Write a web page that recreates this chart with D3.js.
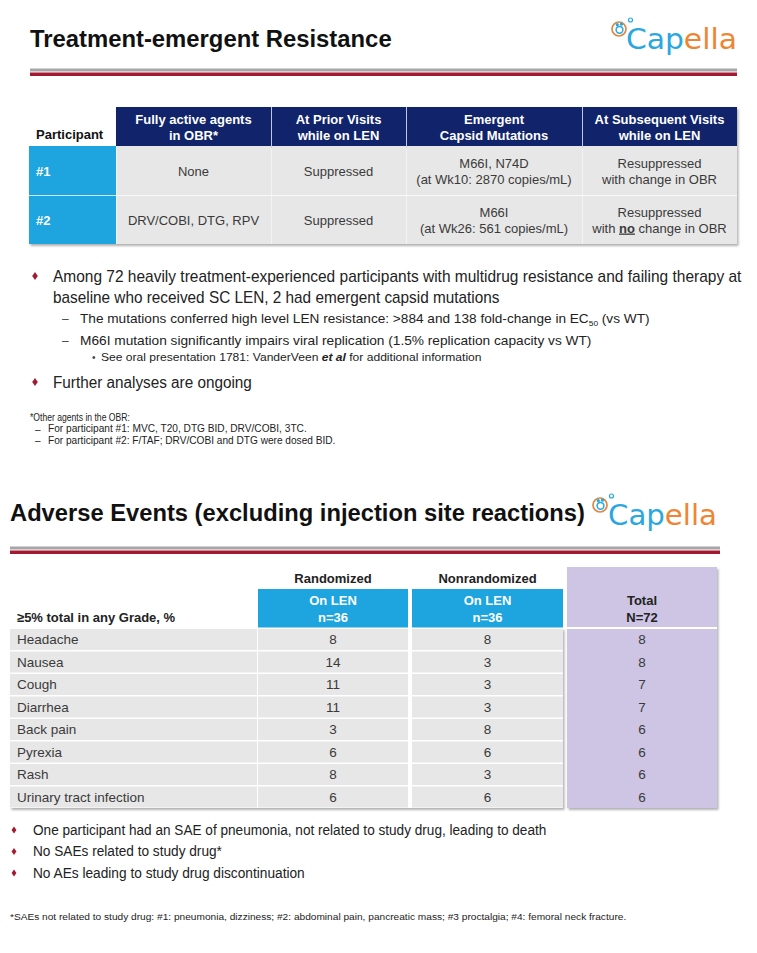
<!DOCTYPE html>
<html><head><meta charset="utf-8">
<script src="https://cdn.jsdelivr.net/npm/d3@7"></script>
<style>body{margin:0;background:#fff}svg{display:block;font-family:"Liberation Sans",Arial,sans-serif}</style>
</head><body><svg id="c" width="757" height="953"></svg>
<script>
// ---------- DATA ----------
const resHeaders = [["Participant"], ["Fully active agents", "in OBR*"], ["At Prior Visits", "while on LEN"], ["Emergent", "Capsid Mutations"], ["At Subsequent Visits", "while on LEN"]];
const participants = ["#1", "#2"];
const activeAgents = [["None"], ["DRV/COBI, DTG, RPV"]];
const priorVisits = [["Suppressed"], ["Suppressed"]];
const capsidMutations = [["M66I, N74D", "(at Wk10: 2870 copies/mL)"], ["M66I", "(at Wk26: 561 copies/mL)"]];
const subsequentVisits = [["Resuppressed", "with change in OBR"], ["Resuppressed", "with no change in OBR"]];

const aeEvents = ["Headache", "Nausea", "Cough", "Diarrhea", "Back pain", "Pyrexia", "Rash", "Urinary tract infection"];
const aeRandomized = [8, 14, 11, 11, 3, 6, 8, 6];
const aeNonrandomized = [8, 3, 3, 3, 8, 6, 3, 6];
const aeTotal = [8, 8, 7, 7, 6, 6, 6, 6];
const aeGroups = ["Randomized", "Nonrandomized"];
const aeArms = [["On LEN", "n=36"], ["On LEN", "n=36"], ["Total", "N=72"]];
const aeRowHeader = "\u22655% total in any Grade, %";

const titles = ["Treatment-emergent Resistance", "Adverse Events (excluding injection site reactions)"];
const brand = ["Cap", "ella"];

// ---------- STYLE ----------
const RED = "#a3192f", GLINE = "#a6a6a6", NAVY = "#10236b", BLUE = "#1ea4de", CELL = "#e7e7e7", PURPLE = "#cdc5e3", TXT = "#3a3a3a";
const svg = d3.select("#c");
const defs = svg.append("defs");
const flt = defs.append("filter").attr("id", "sh").attr("x", "-5%").attr("y", "-10%").attr("width", "112%").attr("height", "125%");
flt.append("feDropShadow").attr("dx", 1.5).attr("dy", 2).attr("stdDeviation", 1.3).attr("flood-color", "#000").attr("flood-opacity", 0.3);

function fit(t, w) {
  const L = t.node().getComputedTextLength();
  const x = +t.attr("x"), k = w / L;
  t.attr("transform", `translate(${x * (1 - k)},0) scale(${k},1)`);
}
function diamond(x, y, s) {
  svg.append("path").attr("d", `M${x},${y - s} L${x + s * 0.7},${y} L${x},${y + s} L${x - s * 0.7},${y} Z`).attr("fill", RED);
}
function logo(ix, iy, x, y, w) {
  const g = svg.append("g");
  const t = g.append("text").attr("x", x).attr("y", y).attr("font-size", 28).attr("font-family", "'DejaVu Sans', sans-serif");
  t.append("tspan").attr("fill", "#2aa7df").text(brand[0]);
  t.append("tspan").attr("fill", "#ef8532").text(brand[1]);
  fit(t, w);
  g.append("circle").attr("cx", ix).attr("cy", iy).attr("r", 7).attr("fill", "none").attr("stroke", "#d98a4a").attr("stroke-width", 1.7);
  g.append("circle").attr("cx", ix + 0.5).attr("cy", iy + 0.8).attr("r", 3.4).attr("fill", "none").attr("stroke", "#2aa7df").attr("stroke-width", 1.5);
  g.append("circle").attr("cx", ix - 1.7).attr("cy", iy - 4.3).attr("r", 1.6).attr("fill", "#2aa7df");
  g.append("circle").attr("cx", ix + 2.4).attr("cy", iy - 4.8).attr("r", 1.6).attr("fill", "#2aa7df");
  g.append("circle").attr("cx", ix + 11.5).attr("cy", iy - 9).attr("r", 2).attr("fill", "none").attr("stroke", "#2aa7df").attr("stroke-width", 1.2);
}
function lines(g, arr, cx, cy, opt) {
  const lh = opt.lh || 16;
  const base = arr.length === 1 ? [cy + 5] : [cy - 3, cy - 3 + lh];
  arr.forEach((s, i) => {
    const t = g.append("text").attr("x", cx).attr("y", base[i]).attr("text-anchor", opt.anchor || "middle")
      .attr("font-size", opt.size || 13).attr("font-weight", opt.bold ? "bold" : "normal").attr("fill", opt.fill || TXT);
    const m = s.match(/^(.*\s)(no)(\s.*)$/);
    if (m) {
      t.append("tspan").text(m[1]);
      t.append("tspan").attr("font-weight", "bold").attr("text-decoration", "underline").text(m[2]);
      t.append("tspan").text(m[3]);
    } else t.text(s);
  });
}

// ---------- SECTION 1 ----------
fit(svg.append("text").attr("x", 30).attr("y", 47).attr("font-size", 24).attr("font-weight", "bold").attr("fill", "#111").text(titles[0]), 362);
logo(619, 29, 626, 49, 111);
svg.append("rect").attr("x", 30).attr("y", 68.5).attr("width", 707).attr("height", 3).attr("fill", GLINE);
svg.append("rect").attr("x", 30).attr("y", 72.5).attr("width", 707).attr("height", 3.5).attr("fill", RED);

const resEdges = [29, 116, 271, 406, 582, 737];
const resCol = d3.scaleOrdinal().domain(d3.range(5)).range(resEdges.slice(0, 5));
const resW = i => resEdges[i + 1] - resEdges[i];
const resRow = d3.scaleBand().domain(participants).range([146, 244]);
const headY = [107, 146];

const t1 = svg.append("g");
t1.append("rect").attr("x", 29).attr("y", 146).attr("width", 708).attr("height", 98).attr("fill", "#fff").attr("filter", "url(#sh)");
t1.append("rect").attr("x", 116).attr("y", 107).attr("width", 621).attr("height", 39).attr("fill", "#fff").attr("filter", "url(#sh)");
resHeaders.forEach((h, i) => {
  const x = resCol(i), w = resW(i);
  if (i > 0) t1.append("rect").attr("x", x + (i > 1 ? 0.75 : 0)).attr("y", headY[0]).attr("width", w - (i > 1 ? 0.75 : 0)).attr("height", headY[1] - headY[0]).attr("fill", NAVY);
  if (i > 0) lines(t1, h, x + w / 2, (headY[0] + headY[1]) / 2, { bold: true, fill: "#fff" });
  else lines(t1, h, x + 7, headY[1] - 12, { bold: true, fill: "#111", anchor: "start" });
});
const resCells = [participants.map(p => [p]), activeAgents, priorVisits, capsidMutations, subsequentVisits];
participants.forEach((p, r) => {
  const y = resRow(p), h = resRow.bandwidth();
  resCells.forEach((col, i) => {
    const x = resCol(i), w = resW(i);
    t1.append("rect").attr("x", x + (i > 0 ? 0.5 : 0)).attr("y", y + (r > 0 ? 0.75 : 0)).attr("width", w - (i > 0 ? 0.5 : 0)).attr("height", h - (r > 0 ? 0.75 : 0))
      .attr("fill", i === 0 ? BLUE : CELL);
    if (i === 0) lines(t1, col[r], x + 7, y + h / 2, { bold: true, fill: "#fff", anchor: "start" });
    else lines(t1, col[r], x + w / 2, y + h / 2, {});
  });
});

// bullets
diamond(35, 276, 4);
fit(svg.append("text").attr("x", 53).attr("y", 282).attr("font-size", 16).attr("fill", "#222").text("Among 72 heavily treatment-experienced participants with multidrug resistance and failing therapy at"), 689);
fit(svg.append("text").attr("x", 53).attr("y", 303).attr("font-size", 16).attr("fill", "#222").text("baseline who received SC LEN, 2 had emergent capsid mutations"), 447);
svg.append("text").attr("x", 62).attr("y", 323).attr("font-size", 12).attr("fill", "#444").text("\u2013");
const s1 = svg.append("text").attr("x", 80).attr("y", 323).attr("font-size", 13).attr("fill", "#222");
s1.append("tspan").text("The mutations conferred high level LEN resistance: >884 and 138 fold-change in EC");
s1.append("tspan").attr("font-size", 8).attr("dy", 3).text("50");
s1.append("tspan").attr("dy", -3).text(" (vs WT)");
fit(s1, 570);
svg.append("text").attr("x", 62).attr("y", 345).attr("font-size", 12).attr("fill", "#444").text("\u2013");
fit(svg.append("text").attr("x", 80).attr("y", 345).attr("font-size", 13).attr("fill", "#222").text("M66I mutation significantly impairs viral replication (1.5% replication capacity vs WT)"), 512);
svg.append("text").attr("x", 92).attr("y", 361).attr("font-size", 10).attr("fill", "#444").text("\u2022");
const s3 = svg.append("text").attr("x", 101).attr("y", 361).attr("font-size", 11).attr("fill", "#222");
s3.append("tspan").text("See oral presentation 1781: VanderVeen ");
s3.append("tspan").attr("font-style", "italic").attr("font-weight", "bold").text("et al");
s3.append("tspan").text(" for additional information");
fit(s3, 381);
diamond(35, 382, 4);
fit(svg.append("text").attr("x", 53).attr("y", 388).attr("font-size", 16).attr("fill", "#222").text("Further analyses are ongoing"), 199);

// footnote 1
fit(svg.append("text").attr("x", 30).attr("y", 421).attr("font-size", 10).attr("fill", "#222").text("*Other agents in the OBR:"), 100);
svg.append("text").attr("x", 35).attr("y", 432.5).attr("font-size", 10).attr("fill", "#222").text("\u2013");
fit(svg.append("text").attr("x", 48).attr("y", 432.5).attr("font-size", 10).attr("fill", "#222").text("For participant #1: MVC, T20, DTG BID, DRV/COBI, 3TC."), 259);
svg.append("text").attr("x", 35).attr("y", 444).attr("font-size", 10).attr("fill", "#222").text("\u2013");
fit(svg.append("text").attr("x", 48).attr("y", 444).attr("font-size", 10).attr("fill", "#222").text("For participant #2: F/TAF; DRV/COBI and DTG were dosed BID."), 288);

// ---------- SECTION 2 ----------
fit(svg.append("text").attr("x", 10).attr("y", 521).attr("font-size", 24).attr("font-weight", "bold").attr("fill", "#111").text(titles[1]), 575);
logo(600, 505, 608, 525, 109);
svg.append("rect").attr("x", 10).attr("y", 546.5).attr("width", 710).attr("height", 3).attr("fill", GLINE);
svg.append("rect").attr("x", 10).attr("y", 550.5).attr("width", 710).attr("height", 3.5).attr("fill", RED);

const aeRow = d3.scaleBand().domain(aeEvents).range([628, 808]);
const aeColX = [10, 258, 412, 567], aeColW = [247, 150, 151, 150];
const armCol = d3.scaleOrdinal().domain([0, 1, 2]).range([1, 2, 3]);
const t2 = svg.append("g");
t2.append("rect").attr("x", 10).attr("y", 628).attr("width", 553).attr("height", 180).attr("fill", "#fff").attr("filter", "url(#sh)");
t2.append("rect").attr("x", 567).attr("y", 567).attr("width", 150).attr("height", 241).attr("fill", PURPLE).attr("filter", "url(#sh)");
aeGroups.forEach((g, i) => {
  const c = armCol(i);
  t2.append("text").attr("x", aeColX[c] + aeColW[c] / 2).attr("y", 583).attr("text-anchor", "middle").attr("font-size", 13).attr("font-weight", "bold").attr("fill", "#222").text(g);
});
aeArms.forEach((a, i) => {
  const c = armCol(i);
  if (i < 2) t2.append("rect").attr("x", aeColX[c]).attr("y", 589).attr("width", aeColW[c]).attr("height", 38.5).attr("fill", BLUE);
  lines(t2, a, aeColX[c] + aeColW[c] / 2, 608, { bold: true, fill: i < 2 ? "#fff" : "#222", lh: 17 });
});
t2.append("text").attr("x", 17).attr("y", 622).attr("font-size", 13).attr("font-weight", "bold").attr("fill", "#222").text(aeRowHeader);
const aeSeries = [aeRandomized, aeNonrandomized, aeTotal];
aeEvents.forEach((ev, r) => {
  const y = aeRow(ev), h = aeRow.bandwidth();
  const yy = y + 1, hh = h - 1.5;
  t2.append("rect").attr("x", aeColX[0]).attr("y", yy).attr("width", aeColW[0]).attr("height", hh).attr("fill", CELL);
  t2.append("text").attr("x", 17).attr("y", y + h / 2 + 5).attr("font-size", 13.5).attr("fill", TXT).text(ev);
  aeSeries.forEach((s, i) => {
    const c = armCol(i);
    t2.append("rect").attr("x", aeColX[c]).attr("y", yy).attr("width", aeColW[c]).attr("height", hh).attr("fill", i < 2 ? CELL : PURPLE);
    t2.append("text").attr("x", aeColX[c] + aeColW[c] / 2).attr("y", y + h / 2 + 5).attr("text-anchor", "middle").attr("font-size", 13.5).attr("fill", TXT).text(s[r]);
  });
});
t2.append("rect").attr("x", 567).attr("y", 627).attr("width", 150).attr("height", 2).attr("fill", "#fff");

// bullets 2
const b2 = ["One participant had an SAE of pneumonia, not related to study drug, leading to death", "No SAEs related to study drug*", "No AEs leading to study drug discontinuation"];
const b2w = [514, 189, 272];
b2.forEach((s, i) => {
  const y = 835 + i * 21.5;
  diamond(14, y - 5, 3.5);
  fit(svg.append("text").attr("x", 33).attr("y", y).attr("font-size", 14.5).attr("fill", "#222").text(s), b2w[i]);
});
fit(svg.append("text").attr("x", 10).attr("y", 920).attr("font-size", 9).attr("fill", "#222").text("*SAEs not related to study drug: #1: pneumonia, dizziness; #2: abdominal pain, pancreatic mass; #3 proctalgia; #4: femoral neck fracture."), 617);
</script></body></html>
